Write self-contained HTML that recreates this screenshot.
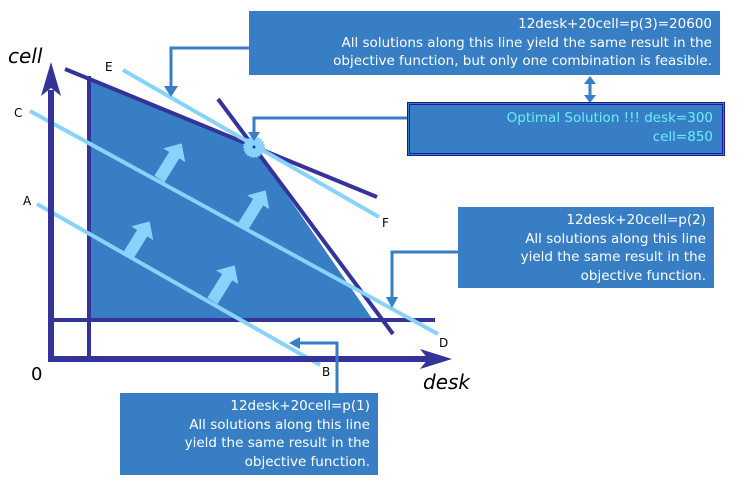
<!DOCTYPE html>
<html><head><meta charset="utf-8"><style>
body{margin:0;background:#fff;width:756px;height:498px;overflow:hidden;position:relative;font-family:"DejaVu Sans","Liberation Sans",sans-serif}
.box{position:absolute;background:#377ec4;color:#fff;text-align:right;font-size:13.5px;line-height:18.6px;box-sizing:border-box;padding:4px 8px 0 0}
.lbl{position:absolute;font-size:12px;color:#000}
</style></head><body>
<svg width="756" height="498" style="position:absolute;left:0;top:0">
<polygon points="89,78 254,147 373,320 89,320" fill="#377ec4"/>
<g stroke="#333399" stroke-width="4" fill="none">
<line x1="89" y1="76" x2="89" y2="359"/>
<line x1="53" y1="320" x2="435" y2="320"/>
<line x1="65" y1="69" x2="377" y2="197"/>
<line x1="218" y1="99" x2="393" y2="334"/>
</g>
<g stroke="#88d3fb" stroke-width="4">
<line x1="123" y1="70" x2="379" y2="217"/>
<line x1="30" y1="111" x2="438" y2="334"/>
<line x1="37" y1="204" x2="320" y2="365"/>
</g>
<g stroke="#333399" stroke-width="6">
<line x1="51" y1="90" x2="51" y2="362"/>
<line x1="48" y1="359" x2="430" y2="359"/>
</g>
<polygon points="51,62 41,96 51,88 61,96" fill="#333399"/>
<polygon points="452,359 420,349 428,359 420,369" fill="#333399"/>
<g fill="#88d3fb">
<g transform="translate(170,162) rotate(-58)"><polygon points="-20,-6 8,-6 8,-13 22,0 8,13 8,6 -20,6"/></g>
<g transform="translate(254,209) rotate(-58)"><polygon points="-20,-6 8,-6 8,-13 22,0 8,13 8,6 -20,6"/></g>
<g transform="translate(138,240) rotate(-58)"><polygon points="-20,-6 8,-6 8,-13 22,0 8,13 8,6 -20,6"/></g>
<g transform="translate(223,284) rotate(-58)"><polygon points="-20,-6 8,-6 8,-13 22,0 8,13 8,6 -20,6"/></g>
</g>
<circle cx="254" cy="147" r="10" fill="#88d3fb" stroke="#88d3fb" stroke-width="2" stroke-dasharray="1.5 1.5"/>
<circle cx="254" cy="147" r="1.5" fill="#333399"/>
<g stroke="#377ec4" stroke-width="3" fill="none">
<polyline points="249,48 171,48 171,88"/>
<polyline points="407,118 254,118 254,134"/>
<polyline points="458,252 392,252 392,300"/>
<polyline points="337,393 337,343 298,343"/>
<line x1="590" y1="82" x2="590" y2="97"/>
</g>
<g fill="#377ec4">
<polygon points="164,86 178,86 171,97"/>
<polygon points="248,132 260,132 254,141"/>
<polygon points="386,297 398,297 392,308"/>
<polygon points="300,337 300,349 289,343"/>
<polygon points="584,84 596,84 590,76"/>
<polygon points="584,95 596,95 590,103"/>
</g>
</svg>
<div style="position:absolute;left:8px;top:44px;font-size:20px;font-style:italic">cell</div>
<div style="position:absolute;left:423px;top:370px;font-size:20px;font-style:italic">desk</div>
<div style="position:absolute;left:31px;top:364px;font-size:18px">0</div>
<div class="lbl" style="left:105px;top:60px">E</div>
<div class="lbl" style="left:14px;top:106px">C</div>
<div class="lbl" style="left:23px;top:194px">A</div>
<div class="lbl" style="left:382px;top:216px">F</div>
<div class="lbl" style="left:439px;top:336px">D</div>
<div class="lbl" style="left:322px;top:365px">B</div>
<div class="box" style="left:249px;top:11px;width:471px;height:64px">12desk+20cell=p(3)=20600<br>All solutions along this line yield the same result in the<br>objective function, but only one combination is feasible.</div>
<div class="box" style="left:407px;top:102px;width:318px;height:54px;border:3px double #1a1a99;color:#66f0ff;padding-top:4px;padding-right:9px">Optimal Solution !!! desk=300<br>cell=850</div>
<div class="box" style="left:458px;top:207px;width:256px;height:81px">12desk+20cell=p(2)<br>All solutions along this line<br>yield the same result in the<br>objective function.</div>
<div class="box" style="left:120px;top:393px;width:258px;height:82px">12desk+20cell=p(1)<br>All solutions along this line<br>yield the same result in the<br>objective function.</div>
</body></html>
